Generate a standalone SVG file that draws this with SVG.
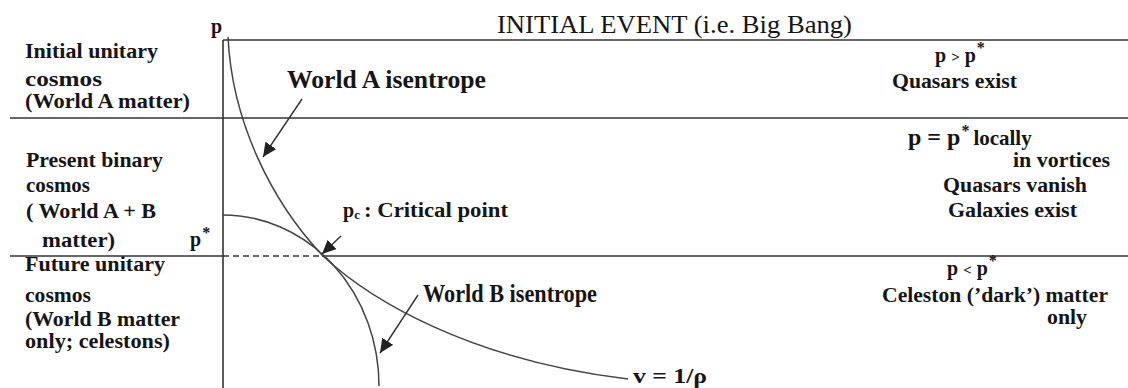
<svg xmlns="http://www.w3.org/2000/svg" width="1128" height="388" viewBox="0 0 1128 388">
<style>
  .ln { stroke:#333; stroke-width:1.6; fill:none; }
  .cv { stroke:#444; stroke-width:1.5; fill:none; }
  .ar { stroke:#333; stroke-width:1.4; fill:none; marker-end:url(#ah); }
  .t { font-family:"Liberation Serif",serif; font-weight:700; fill:#151515; font-size:20px; }
  .big { font-size:25px; }
  .hd { font-family:"Liberation Serif",serif; font-weight:400; fill:#151515; font-size:26px; }
  .sup { font-size:16px; }
</style>
<defs>
  <marker id="ah" markerUnits="userSpaceOnUse" markerWidth="16" markerHeight="14" refX="14" refY="6.5" orient="auto">
    <path d="M0,0 L14,6.5 L0,13 z" fill="#222"/>
  </marker>
</defs>
<rect width="1128" height="388" fill="#fff"/>

<g id="axes">
  <line class="ln" x1="223" y1="40" x2="223" y2="388"/>
  <line class="ln" x1="223" y1="40" x2="1128" y2="40"/>
  <line class="ln" x1="10" y1="118" x2="1128" y2="118"/>
  <line class="ln" x1="10" y1="256" x2="223" y2="256"/>
  <line class="ln" x1="223" y1="256" x2="322" y2="256" stroke-dasharray="6,4"/>
  <line class="ln" x1="322" y1="256" x2="1128" y2="256"/>
</g>

<g id="curves">
  <path id="worldA" class="cv" d="M228,37 C232,120 270,200 323,256 C370,300 470,360 628,379"/>
  <path id="worldB" class="cv" d="M223,215 A156,171 0 0 1 379,386"/>
</g>

<g id="connectors">
  <line class="ar" x1="302" y1="99" x2="263" y2="157"/>
  <line class="ar" x1="341" y1="236" x2="322" y2="254"/>
  <line class="ar" x1="418" y1="295" x2="380" y2="353"/>
</g>

<g id="title">
  <text class="hd" x="497" y="33" textLength="355" lengthAdjust="spacingAndGlyphs">INITIAL EVENT (i.e. Big Bang)</text>
  <text class="t" x="211" y="33" font-size="24">p</text>
</g>

<g id="left-initial">
  <text class="t" x="25" y="58" font-size="21" textLength="133" lengthAdjust="spacingAndGlyphs">Initial unitary</text>
  <text class="t" x="25" y="86" font-size="22" textLength="77" lengthAdjust="spacingAndGlyphs">cosmos</text>
  <text class="t" x="25" y="108" textLength="165" lengthAdjust="spacingAndGlyphs">(World A matter)</text>
</g>

<g id="left-present">
  <text class="t" x="26" y="167" font-size="21" textLength="137" lengthAdjust="spacingAndGlyphs">Present binary</text>
  <text class="t" x="26" y="192" textLength="64" lengthAdjust="spacingAndGlyphs">cosmos</text>
  <text class="t" x="26" y="218" font-size="21" textLength="130" lengthAdjust="spacingAndGlyphs">( World A + B</text>
  <text class="t" x="42" y="247" font-size="21" textLength="73" lengthAdjust="spacingAndGlyphs">matter)</text>
  <text class="t" x="190" y="246" font-size="24">p<tspan class="sup" dx="1" dy="-8">*</tspan></text>
</g>

<g id="left-future">
  <text class="t" x="25" y="271" font-size="21" textLength="140" lengthAdjust="spacingAndGlyphs">Future unitary</text>
  <text class="t" x="25" y="302" textLength="66" lengthAdjust="spacingAndGlyphs">cosmos</text>
  <text class="t" x="25" y="326" textLength="155" lengthAdjust="spacingAndGlyphs">(World B matter</text>
  <text class="t" x="25" y="348" textLength="145" lengthAdjust="spacingAndGlyphs">only; celestons)</text>
</g>

<g id="label-worldA">
  <text class="t big" x="287" y="88" textLength="199" lengthAdjust="spacingAndGlyphs">World A isentrope</text>
</g>
<g id="label-critical">
  <text class="t" x="343" y="217" font-size="21">p<tspan font-size="13" dy="2">c</tspan></text>
  <text class="t" x="364" y="217" font-size="21" textLength="144" lengthAdjust="spacingAndGlyphs">: Critical point</text>
</g>
<g id="label-worldB">
  <text class="t big" x="423" y="302" textLength="174" lengthAdjust="spacingAndGlyphs">World B isentrope</text>
</g>
<g id="label-v">
  <text class="t" x="633" y="383" font-size="23" textLength="74" lengthAdjust="spacingAndGlyphs">v = 1/ρ</text>
</g>

<g id="right-initial">
  <text class="t" x="935" y="62" font-size="21">p <tspan font-size="15">&gt;</tspan> p<tspan class="sup" dx="1" dy="-9">*</tspan></text>
  <text class="t" x="892" y="88" textLength="125" lengthAdjust="spacingAndGlyphs">Quasars exist</text>
</g>
<g id="right-present">
  <text class="t" x="908" y="145"><tspan font-size="24">p = p</tspan><tspan class="sup" dx="1" dy="-9">*</tspan><tspan dx="4" dy="9" font-size="21">locally</tspan></text>
  <text class="t" x="1013" y="167" font-size="21" textLength="97" lengthAdjust="spacingAndGlyphs">in vortices</text>
  <text class="t" x="943" y="192" font-size="22" textLength="144" lengthAdjust="spacingAndGlyphs">Quasars vanish</text>
  <text class="t" x="948" y="217" font-size="21" textLength="129" lengthAdjust="spacingAndGlyphs">Galaxies exist</text>
</g>
<g id="right-future">
  <text class="t" x="947" y="275" font-size="21">p <tspan font-size="15">&lt;</tspan> p<tspan class="sup" dx="1" dy="-9">*</tspan></text>
  <text class="t" x="882" y="302" textLength="226" lengthAdjust="spacingAndGlyphs">Celeston (’dark’) matter</text>
  <text class="t" x="1047" y="324" textLength="40" lengthAdjust="spacingAndGlyphs">only</text>
</g>
</svg>
